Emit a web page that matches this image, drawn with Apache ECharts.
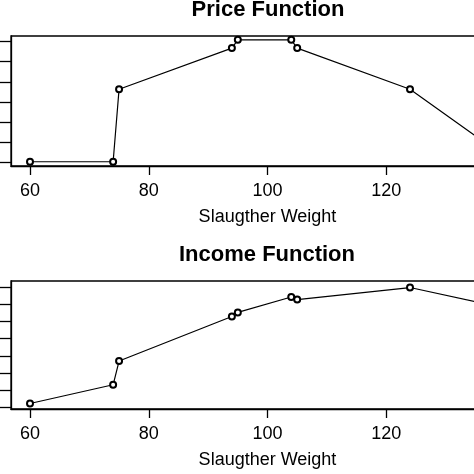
<!DOCTYPE html>
<html>
<head>
<meta charset="utf-8">
<script src="https://cdn.jsdelivr.net/npm/echarts@6/dist/echarts.min.js"></script>
<style>
  html, body { margin: 0; padding: 0; background: #fff; overflow: hidden; width: 474px; height: 474px; }
  /* the original figure is cropped on the right, so the chart is wider than the window */
  #root { width: 540px; height: 474px; }
</style>
</head>
<body>
<div id="root"></div>
<script>
// slaughter weight of each observation
var weights = [60, 74, 75, 94, 95, 104, 105, 124, 140];
// price function (y labels are cut off in the picture, so these are in tick units)
var price = [0.03, 0.03, 3.63, 5.67, 6.08, 6.08, 5.67, 3.63, 0.27];
// income function, same idea
var income = [0.23, 1.32, 2.70, 5.29, 5.53, 6.43, 6.28, 6.98, 5.78];
var xTicks = [60, 80, 100, 120, 140];
var priceTicks = [0, 1, 2, 3, 4, 5, 6];
var incomeTicks = [0, 1, 2, 3, 4, 5, 6, 7];

var FONT = '"Liberation Sans", Arial, sans-serif';

function pairs(ys) {
  return weights.map(function(w, i) {
    return [w, ys[i]];
  });
}

function xAxisFor(gridIndex) {
  return {
    type: 'value',
    gridIndex: gridIndex,
    min: 56.8,
    max: 143.2,
    name: 'Slaugther Weight',
    nameLocation: 'middle',
    nameGap: 42,
    nameTextStyle: { color: '#000', fontSize: 18, fontFamily: FONT },
    axisLine: { show: true, onZero: false, lineStyle: { color: '#000', width: 1.3 } },
    axisTick: { show: true, inside: false, length: 9, customValues: xTicks, lineStyle: { color: '#000', width: 1.3 } },
    axisLabel: { show: true, margin: 16, customValues: xTicks, color: '#000', fontSize: 18, fontFamily: FONT },
    splitLine: { show: false }
  };
}

function yAxisFor(gridIndex, min, max, ticks) {
  return {
    type: 'value',
    gridIndex: gridIndex,
    min: min,
    max: max,
    axisLine: { show: true, onZero: false, lineStyle: { color: '#000', width: 1.3 } },
    axisTick: { show: true, inside: false, length: 13, customValues: ticks, lineStyle: { color: '#000', width: 1.3 } },
    axisLabel: { show: false },
    splitLine: { show: false }
  };
}

function lineSeries(idx, ys) {
  return {
    type: 'line',
    xAxisIndex: idx,
    yAxisIndex: idx,
    data: pairs(ys),
    symbol: 'emptyCircle',
    symbolSize: 6,
    lineStyle: { color: '#000', width: 1.2 },
    itemStyle: { color: '#000', borderColor: '#000', borderWidth: 1 },
    animation: false
  };
}

var option = {
  backgroundColor: '#fff',
  animation: false,
  graphic: [
    { type: 'text', x: 268, y: 10, style: { text: 'Price Function', font: 'bold 22px ' + FONT, fill: '#000', align: 'center', verticalAlign: 'middle' } },
    { type: 'text', x: 267, y: 255, style: { text: 'Income Function', font: 'bold 22px ' + FONT, fill: '#000', align: 'center', verticalAlign: 'middle' } }
  ],
  grid: [
    { left: 11, top: 36, height: 130, right: 16, show: true, borderColor: '#000', borderWidth: 1.3, backgroundColor: 'transparent' },
    { left: 11, top: 281, height: 128, right: 16, show: true, borderColor: '#000', borderWidth: 1.3, backgroundColor: 'transparent' }
  ],
  xAxis: [xAxisFor(0), xAxisFor(1)],
  yAxis: [
    yAxisFor(0, -0.18, 6.27, priceTicks),
    yAxisFor(1, -0.09, 7.36, incomeTicks)
  ],
  series: [lineSeries(0, price), lineSeries(1, income)]
};

var myChart = echarts.init(document.getElementById('root'));
myChart.setOption(option);
</script>
</body>
</html>
